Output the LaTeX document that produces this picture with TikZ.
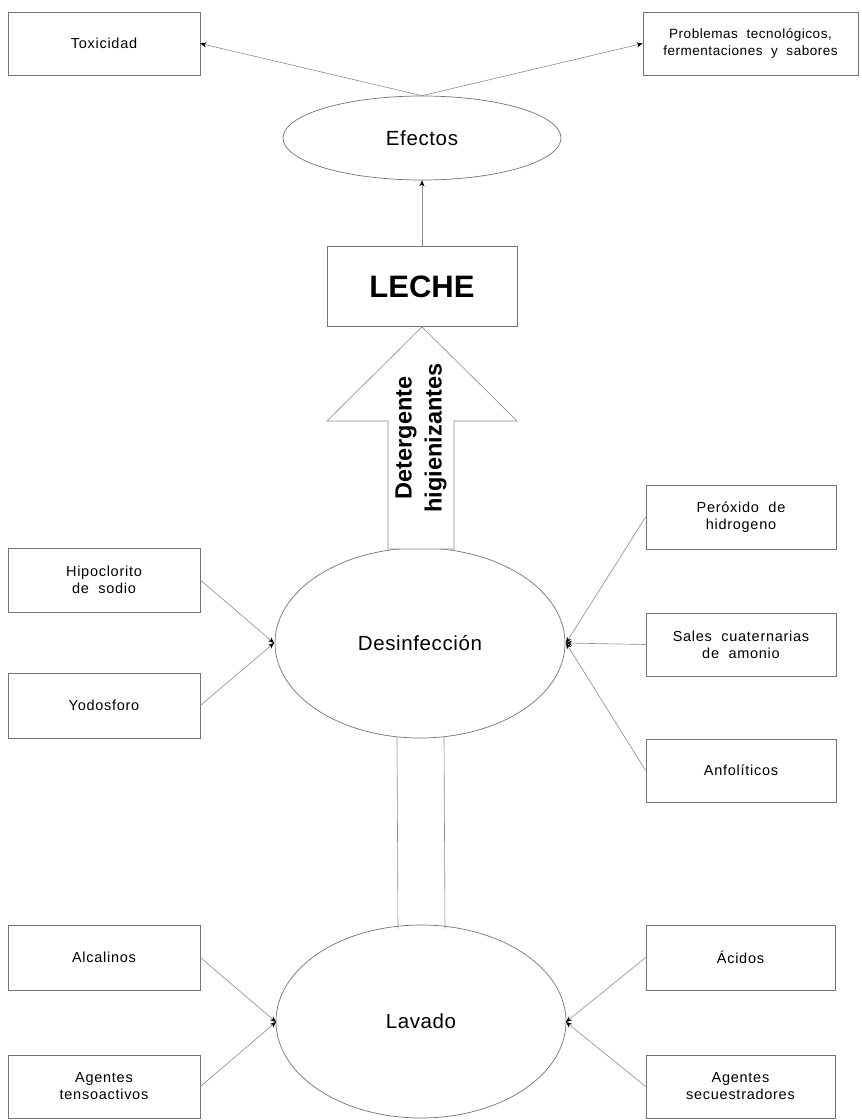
\documentclass[tikz,border=0pt]{standalone}
\usepackage{fontspec}
\setmainfont{Liberation Sans}
\usetikzlibrary{arrows.meta,calc,shapes.geometric}
\begin{document}
\begin{tikzpicture}[x=1pt,y=-1pt,
  box/.style={draw=black!55,line width=0.7pt,rectangle,font=\fontsize{14.5}{17}\selectfont\addfontfeature{LetterSpace=5},align=center,inner sep=0pt},
  oval/.style={draw=black!55,line width=0.7pt,ellipse,inner sep=0pt,font=\fontsize{20.5}{24}\selectfont\addfontfeature{LetterSpace=3}},
  link/.style={draw=black!45,line width=0.6pt,-{Stealth[length=6pt,width=5pt,black]}},
  plain/.style={draw=black!45,line width=0.6pt}]
\useasboundingbox (0,0) rectangle (862,1120);
\fill[white] (0,0) rectangle (862,1120);

% top row
\node[box,minimum width=192pt,minimum height=63pt] (tox) at (104,43.5) {Toxicidad};
\node[box,minimum width=215pt,minimum height=63pt,font=\fontsize{13.5}{16.5}\selectfont\addfontfeature{LetterSpace=4}] (prob) at (750.5,43.5) {Problemas\ \ tecnológicos,\\fermentaciones\ \ y\ \ sabores};
\node[oval,minimum width=278pt,minimum height=84pt] (efe) at (422,138) {Efectos};
\draw[link] (efe.north) -- (tox.east);
\draw[link] (efe.north) -- (prob.west);

% milk
\node[box,minimum width=190pt,minimum height=80pt,font=\fontsize{31}{34}\selectfont\bfseries] (leche) at (422,286.5) {LECHE};
\draw[link] (leche.north) -- (efe.south);

% disinfection
\node[oval,minimum width=290pt,minimum height=190pt] (des) at (420,643) {Desinfección};

% hollow arrow from disinfection up to milk
\coordinate (tip) at (leche.south);
\draw[draw=black!45,line width=0.6pt,fill=white]
  (tip) -- (517,421) -- (454,421) -- (454,549) -- (388,549) -- (388,421) -- (327,421) -- cycle;
\node[rotate=90,align=center,font=\fontsize{23.5}{30}\selectfont\bfseries] (det) at (421,438) {Detergente\\higienizantes};

% left agents
\node[box,minimum width=192pt,minimum height=64pt] (hipo) at (104,580) {Hipoclorito\\de\ \ sodio};
\node[box,minimum width=192pt,minimum height=65pt] (yodo) at (104,705.5) {Yodosforo};
\coordinate (dl) at (274,643);
\draw[link] (hipo.east) -- (dl);
\draw[link] (yodo.east) -- (dl);

% right agents
\node[box,minimum width=190pt,minimum height=64pt] (pero) at (741,517) {Peróxido\ \ de\\hidrogeno};
\node[box,minimum width=190pt,minimum height=63pt] (sales) at (741,644.5) {Sales\ \ cuaternarias\\de\ \ amonio};
\node[box,minimum width=190pt,minimum height=63pt] (anfo) at (741,770.5) {Anfolíticos};
\coordinate (dr) at (566,643);
\draw[link] (pero.west) -- (dr);
\draw[link] (sales.west) -- (dr);
\draw[link] (anfo.west) -- (dr);

% washing
\node[oval,minimum width=290pt,minimum height=193pt] (lav) at (421,1021.5) {Lavado};
\draw[plain] ($(des.south)+(-23,-1)$) -- ($(lav.north)+(-23,4)$);
\draw[plain] ($(des.south)+(24,-1)$) -- ($(lav.north)+(24,4)$);

\node[box,minimum width=192pt,minimum height=65pt] (alca) at (104,957.5) {Alcalinos};
\node[box,minimum width=192pt,minimum height=63pt] (tens) at (104,1086.5) {Agentes\\tensoactivos};
\node[box,minimum width=189pt,minimum height=65pt] (acid) at (740.5,957.5) {Ácidos};
\node[box,minimum width=189pt,minimum height=63pt] (secu) at (740.5,1086.5) {Agentes\\secuestradores};
\coordinate (ll) at (276,1022);
\coordinate (lr) at (566,1022);
\draw[link] (alca.east) -- (ll);
\draw[link] (tens.east) -- (ll);
\draw[link] (acid.west) -- (lr);
\draw[link] (secu.west) -- (lr);
\end{tikzpicture}
\end{document}
